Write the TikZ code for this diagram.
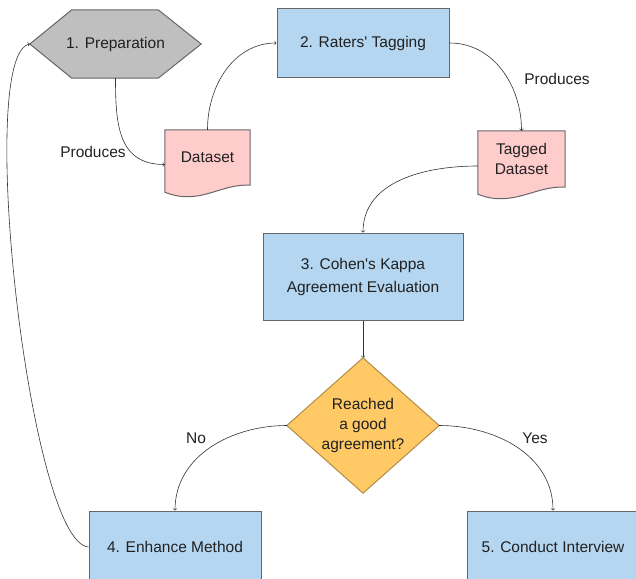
\documentclass[tikz,border=0pt]{standalone}
\usepackage{fontspec}
\setmainfont{Liberation Sans}
\usetikzlibrary{calc,backgrounds,arrows}

\definecolor{boxblue}{HTML}{B4D6F0}
\definecolor{docpink}{HTML}{FFCCCC}
\definecolor{askorange}{HTML}{FFC966}
\definecolor{prepgray}{HTML}{BFBFBF}
\definecolor{rimgray}{HTML}{666666}

\tikzset{
  stepbox/.style={draw=rimgray, line width=1pt, fill=boxblue, inner sep=0pt, align=center},
  plain/.style={inner sep=0pt, align=center},
  rim/.style={draw=rimgray, line width=1pt},
  flow/.style={-to, draw=black!80, line width=0.6pt},
}

\newcommand{\docpath}[1]{%
  \draw[rim, fill=docpink] (#1.north west) -- (#1.north east) -- (#1.south east)
    .. controls +(-30,-2) and +(35,14) .. ([yshift=-7pt]#1.south west) -- cycle;}

\begin{document}
\begin{tikzpicture}[x=1pt, y=-1pt, font=\fontsize{15.5}{20}\selectfont, text=black!87]
    \useasboundingbox (0,0) rectangle (636,578);
    \clip (0,0) rectangle (636,578);

    \node[plain, minimum width=171, minimum height=68] (prep) at (115.5,44) {1. Preparation};
    \node[stepbox, minimum width=172, minimum height=68] (rater) at (363,43) {2. Raters\textquotesingle{} Tagging};
    \node[plain, minimum width=85, minimum height=55] (ds) at (207.5,157.5) {Dataset};
    \node[plain, minimum width=87, minimum height=56] (tds) at (521.5,159) {Tagged\\Dataset};
    \node[stepbox, minimum width=200, minimum height=87] (kappa) at (363,276.5) {3. Cohen\textquotesingle s Kappa\\[3pt]Agreement Evaluation};
    \node[plain, minimum width=152, minimum height=135] (agree) at (363,425.5) {Reached\\a good\\agreement?};
    \node[stepbox, minimum width=172, minimum height=72] (enh) at (175,547) {4. Enhance Method};
    \node[stepbox, minimum width=172, minimum height=72] (cond) at (553,547) {5. Conduct Interview};

    \begin{scope}[on background layer]
        \draw[rim, fill=prepgray] (prep.west) -- ([xshift=42pt]prep.north west) -- ([xshift=-43pt]prep.north east)
            -- (prep.east) -- ([xshift=-43pt]prep.south east) -- ([xshift=42pt]prep.south west) -- cycle;
        \docpath{ds}
        \docpath{tds}
        \draw[rim, draw=askorange!70!black, fill=askorange] (agree.north) -- (agree.east) -- (agree.south) -- (agree.west) -- cycle;
    \end{scope}

    \draw[flow] (prep.south) to[out=-90, in=180, looseness=1.2] ([yshift=-7pt]ds.west);
    \draw[flow] (ds.north) to[out=90, in=180] (rater.west);
    \draw[flow] (rater.east) to[out=0, in=90] (tds.north);
    \draw[flow] ([yshift=-7pt]tds.west) to[out=180, in=90] (kappa.north);
    \draw[flow] (kappa.south) -- (agree.north);
    \draw[flow] (agree.west) to[out=180, in=90] (enh.north);
    \draw[flow] (agree.east) to[out=0, in=90] (cond.north);
    \draw[flow] (enh.west) .. controls +(-59,-4) and +(-55,11) .. (prep.west);

    \node (lblprod) at (93,152) {Produces};
    \node (lbltag) at (557,79) {Produces};
    \node (lblno) at (196,438) {No};
    \node (lblyes) at (535,438) {Yes};
\end{tikzpicture}
\end{document}
